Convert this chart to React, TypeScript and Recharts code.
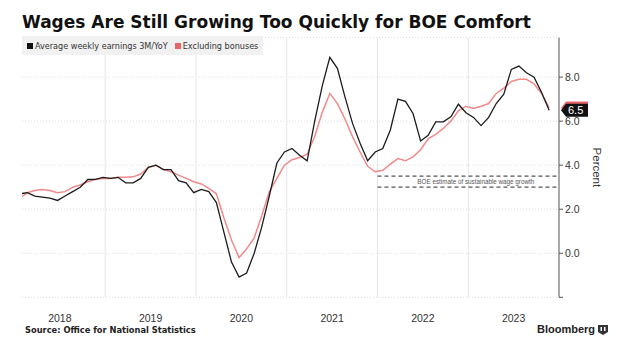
import React from "react";
import {
  CartesianGrid,
  Line,
  LineChart,
  ReferenceDot,
  ReferenceLine,
  XAxis,
  YAxis,
} from "recharts";

// monthly, Jan 2018 .. Nov 2023
const totalPay = [
  2.7, 2.75, 2.6, 2.55, 2.5, 2.4, 2.6, 2.8, 3.0, 3.35, 3.36, 3.45,
  3.4, 3.45, 3.2, 3.2, 3.4, 3.9, 4.0, 3.8, 3.8, 3.3, 3.2, 2.75,
  2.9, 2.8, 2.3, 0.95, -0.4, -1.08, -0.9, 0.0, 1.2, 2.6, 4.1, 4.6,
  4.76, 4.45, 4.2, 6.0, 7.6, 8.9, 8.4, 7.1, 5.9, 5.0, 4.2, 4.6,
  4.76, 5.6, 7.0, 6.9, 6.35, 5.1, 5.36, 5.97, 5.97, 6.2, 6.77, 6.38,
  6.17, 5.8, 6.17, 6.8, 7.23, 8.35, 8.5, 8.2, 8.0, 7.3, 6.5,
];
const regularPay = [
  2.5, 2.75, 2.85, 2.9, 2.85, 2.75, 2.8, 3.0, 3.1, 3.25, 3.35, 3.4,
  3.4, 3.45, 3.45, 3.47, 3.6, 3.9, 4.0, 3.8, 3.7, 3.55, 3.4, 3.25,
  3.15, 2.95, 2.7, 1.6, 0.6, -0.2, 0.2, 0.7, 1.7, 2.8, 3.4, 4.0,
  4.25, 4.35, 4.5, 5.3, 6.4, 7.26, 6.8, 6.1, 5.3, 4.6, 3.95, 3.7,
  3.77, 4.05, 4.3, 4.2, 4.38, 4.7, 5.2, 5.4, 5.67, 6.0, 6.47, 6.68,
  6.58, 6.68, 6.8, 7.26, 7.5, 7.8, 7.9, 7.9, 7.7, 7.26, 6.6,
];

const yearLabels = ["2018", "2019", "2020", "2021", "2022", "2023"];
const yearStarts = [12, 24, 36, 48, 60];
const yTicks = [-2, 0, 2, 4, 6, 8];
const boeBand = [3.0, 3.5];
const latestTotal = 6.5;
const latestRegular = 6.6;

// months counted from Jan 2018, points sit late in their month
const data = totalPay.map((v, i) => ({
  x: i + 0.7,
  total: v,
  regular: regularPay[i],
}));

const font = "'Liberation Sans', Arial, sans-serif";
const wideFont = "'DejaVu Sans', sans-serif";

const Tag = (props: any) => {
  const { cx, cy, fill, text } = props;
  const x = cx + 2;
  return (
    <g>
      <polygon
        points={`${x},${cy} ${x + 5},${cy - 6.5} ${x + 27},${cy - 6.5} ${x + 27},${cy + 6.5} ${x + 5},${cy + 6.5}`}
        fill={fill}
      />
      {text && (
        <text x={x + 7} y={cy + 4} fontSize={11} fill="#fff" fontFamily={font}>
          {text}
        </text>
      )}
    </g>
  );
};

const BoeText = (props: any) => (
  <text
    x={props.cx}
    y={props.cy + 2}
    textAnchor="middle"
    fontSize={6.3}
    fill="#555"
    fontFamily={font}
  >
    BOE estimate of sustainable wage growth
  </text>
);

export default function App() {
  return (
    <div
      style={{
        position: "relative",
        width: 620,
        height: 352,
        margin: -8,
        background: "#fff",
        fontFamily: font,
        overflow: "hidden",
      }}
    >
      <LineChart
        width={620}
        height={352}
        data={data}
        margin={{ top: 37.5, right: 21, bottom: 24.7, left: 22 }}
      >
        <CartesianGrid
          vertical={false}
          stroke="#dcdcdc"
          strokeDasharray="1 2"
        />
        {yearStarts.map((m) => (
          <ReferenceLine key={m} x={m} stroke="#e6e6e6" />
        ))}
        <XAxis
          type="number"
          dataKey="x"
          domain={[1, 72]}
          allowDataOverflow
          ticks={[6, 18, 30, 42, 54, 66]}
          tickFormatter={(v: number) => yearLabels[Math.floor(v / 12)]}
          axisLine={false}
          tickLine={false}
          tickMargin={11}
          height={30}
          tick={{ fontSize: 10.5, fill: "#333", fontFamily: font }}
        />
        <YAxis
          orientation="right"
          domain={[-2, 9.8]}
          allowDataOverflow
          ticks={yTicks}
          tickFormatter={(v: number) => (v === -2 ? "" : v.toFixed(1))}
          axisLine={{ stroke: "#555" }}
          tickLine={{ stroke: "#555" }}
          tickSize={4}
          tickMargin={2}
          width={40}
          tick={{ fontSize: 10.5, fill: "#333", fontFamily: font }}
          label={{
            value: "Percent",
            angle: 90,
            position: "insideRight",
            dx: 3,
            style: { fontSize: 11.5, fill: "#333", fontFamily: font, textAnchor: "middle" },
          }}
        />
        {boeBand.map((y) => (
          <ReferenceLine
            key={y}
            segment={[
              { x: 48, y },
              { x: 72, y },
            ]}
            stroke="#555"
            strokeWidth={1.3}
            strokeDasharray="4 3"
          />
        ))}
        <ReferenceDot x={61} y={3.25} r={0} shape={BoeText} />
        <Line
          dataKey="regular"
          type="linear"
          stroke="#f08a8a"
          strokeWidth={1.5}
          dot={false}
          isAnimationActive={false}
        />
        <Line
          dataKey="total"
          type="linear"
          stroke="#1c1c1c"
          strokeWidth={1.3}
          dot={false}
          isAnimationActive={false}
        />
        <ReferenceDot
          x={72}
          y={latestRegular}
          r={0}
          ifOverflow="visible"
          shape={(p: any) => <Tag {...p} fill="#e8646a" />}
        />
        <ReferenceDot
          x={72}
          y={latestTotal}
          r={0}
          ifOverflow="visible"
          shape={(p: any) => <Tag {...p} fill="#111" text={latestTotal.toFixed(1)} />}
        />
      </LineChart>

      <div
        style={{
          position: "absolute",
          left: 22,
          top: 12,
          fontSize: 17,
          fontWeight: 700,
          color: "#111",
          fontFamily: wideFont,
          whiteSpace: "nowrap",
          lineHeight: "20px",
        }}
      >
        Wages Are Still Growing Too Quickly for BOE Comfort
      </div>

      <div
        style={{
          position: "absolute",
          left: 22,
          top: 36,
          width: 241,
          height: 19,
          background: "#f1f1f1",
          display: "flex",
          alignItems: "center",
          fontSize: 9,
          color: "#333",
          fontFamily: "'DejaVu Sans Condensed', 'DejaVu Sans', sans-serif",
          whiteSpace: "nowrap",
        }}
      >
        <span style={{ width: 6, height: 6, background: "#111", marginLeft: 5, marginRight: 2 }} />
        <span>Average weekly earnings 3M/YoY</span>
        <span style={{ width: 6, height: 6, background: "#e8646a", marginLeft: 7, marginRight: 2 }} />
        <span>Excluding bonuses</span>
      </div>

      <div
        style={{
          position: "absolute",
          left: 25,
          top: 325,
          fontSize: 8.3,
          fontWeight: 700,
          color: "#222",
          fontFamily: wideFont,
          whiteSpace: "nowrap",
        }}
      >
        Source: Office for National Statistics
      </div>

      <div
        style={{
          position: "absolute",
          left: 537,
          top: 323,
          display: "flex",
          alignItems: "center",
          fontSize: 11,
          fontWeight: 700,
          color: "#222",
          whiteSpace: "nowrap",
        }}
      >
        <span>Bloomberg</span>
        <svg width={10} height={11} style={{ marginLeft: 3 }}>
          <path d="M0 1 H10 V8 L5 11 L0 8 Z" fill="#333" />
          <rect x={2.5} y={3} width={1.5} height={4} fill="#fff" />
          <rect x={6} y={3} width={1.5} height={4} fill="#fff" />
        </svg>
      </div>
    </div>
  );
}
